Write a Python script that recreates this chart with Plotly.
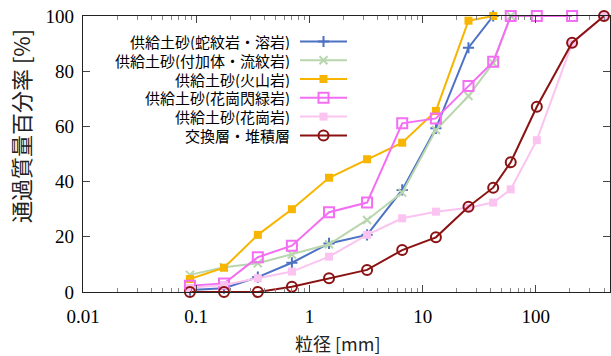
import plotly.graph_objects as go

# ---- data ----
grain_size_mm = [0.088, 0.176, 0.35, 0.70, 1.49, 3.23, 6.6, 13.1, 25.4, 42, 60, 102, 209, 400]

series_names = [
    "供給土砂(蛇紋岩・溶岩)",
    "供給土砂(付加体・流紋岩)",
    "供給土砂(火山岩)",
    "供給土砂(花崗閃緑岩)",
    "供給土砂(花崗岩)",
    "交換層・堆積層",
]
pass_serpentinite = [0.7, 1.4, 5.4, 10.6, 17.6, 20.7, 37.0, 59.3, 88.5, 100]
pass_accretion = [6.2, 9.0, 10.4, 13.6, 17.3, 26.1, 36.0, 58.7, 71.0, 83.0, 100]
pass_volcanic = [4.7, 8.8, 20.7, 30.0, 41.4, 48.1, 54.1, 65.6, 98.3, 100]
pass_granodiorite = [2.3, 3.1, 12.6, 16.8, 28.9, 32.4, 61.1, 62.9, 74.6, 83.4, 100, 100, 100]
pass_granite = [1.5, 2.5, 5.0, 7.4, 12.8, 20.7, 26.7, 29.1, 30.5, 32.4, 37.2, 55.0, 90.0, 100]
pass_exchange = [0, 0, 0, 1.9, 5.0, 8.0, 15.2, 19.8, 30.9, 37.8, 47.0, 67.1, 90.3, 100]

x_tick_vals = [0.01, 0.1, 1, 10, 100]
x_tick_text = ["0.01", "0.1", "1", "10", "100"]
y_tick_vals = [0, 20, 40, 60, 80, 100]

# ---- styles ----
styles = [
    dict(color="#4d72c4", symbol="cross-thin", size=8),
    dict(color="#b9d6ae", symbol="x-thin", size=8),
    dict(color="#f7b500", symbol="square", size=8),
    dict(color="#f46ef4", symbol="square-open", size=10),
    dict(color="#fbc3ef", symbol="square", size=8),
    dict(color="#8b1212", symbol="circle-open", size=10),
]
values = [pass_serpentinite, pass_accretion, pass_volcanic,
          pass_granodiorite, pass_granite, pass_exchange]


def marker_for(st):
    m = dict(symbol=st["symbol"], size=st["size"], color=st["color"])
    if st["symbol"].endswith("thin") or st["symbol"].endswith("open"):
        m["line"] = dict(color=st["color"], width=2)
    return m


fig = go.Figure()
for name, vals, st in zip(series_names, values, styles):
    fig.add_trace(go.Scatter(
        x=grain_size_mm[:len(vals)], y=vals, name=name, mode="lines+markers",
        line=dict(color=st["color"], width=2), marker=marker_for(st),
        showlegend=False, cliponaxis=False,
    ))

# ---- layout geometry (pixels) ----
W, H = 611, 356
L, R, T, B = 83, 610, 16, 292


def px(x):
    return (x - L) / (R - L)


def py(y):
    return (B - y) / (B - T)


# ---- custom legend (text left, sample right) ----
row_y = [41.5, 60.2, 79.0, 97.8, 116.6, 135.4]
text_right = 291
line_x0, line_x1 = 300, 347
for name, st, ry in zip(series_names, styles, row_y):
    fig.add_annotation(
        x=px(text_right), y=py(ry), xref="paper", yref="paper",
        xanchor="right", yanchor="middle", text=name, showarrow=False,
        height=17, valign="middle", borderpad=0,
        font=dict(family="Noto Sans CJK JP", size=15, color="#000"),
    )
    fig.add_shape(
        type="line", xref="paper", yref="paper",
        x0=px(line_x0), x1=px(line_x1), y0=py(ry), y1=py(ry),
        line=dict(color=st["color"], width=2),
    )
    fig.add_trace(go.Scatter(
        x=[(line_x0 + line_x1) / 2], y=[ry],
        xaxis="x2", yaxis="y2", mode="markers", marker=marker_for(st),
        showlegend=False, hoverinfo="skip",
    ))

axis_font = dict(family="Liberation Serif, Times New Roman, serif", size=19, color="#000")
fig.update_layout(
    width=W, height=H,
    margin=dict(l=L, r=W - R, t=T, b=H - B, autoexpand=False),
    paper_bgcolor="white", plot_bgcolor="white",
    xaxis=dict(
        type="log", range=[-2, 2.655], tickvals=x_tick_vals, ticktext=x_tick_text,
        ticks="inside", ticklen=7, tickwidth=1, tickcolor="#444",
        showline=True, linecolor="#222", linewidth=1.2, mirror="ticks",
        showgrid=False, zeroline=False, tickfont=axis_font, automargin=False,
        ticklabelstandoff=7,
        minor=dict(ticks="inside", ticklen=4, tickcolor="#888", dtick="D1", showgrid=False),
    ),
    yaxis=dict(
        range=[0, 100], tickvals=y_tick_vals,
        ticks="inside", ticklen=7, tickwidth=1, tickcolor="#444",
        showline=True, linecolor="#222", linewidth=1.2, mirror="ticks",
        showgrid=False, zeroline=False, tickfont=axis_font, automargin=False,
        ticklabelstandoff=4,
    ),
    xaxis2=dict(overlaying="x", range=[L, R], visible=False),
    yaxis2=dict(overlaying="y", range=[B, T], visible=False),
)

fig.add_annotation(
    x=px(20), y=py(126), xref="paper", yref="paper", textangle=-90,
    text="通過質量百分率 [%]", showarrow=False, xanchor="center", yanchor="middle",
    font=dict(family="Noto Sans CJK JP", size=22, color="#222"),
)
fig.add_annotation(
    x=px(338), y=py(343), xref="paper", yref="paper",
    text="粒径 [mm]", showarrow=False, xanchor="center", yanchor="middle",
    font=dict(family="Noto Sans CJK JP", size=18, color="#222"),
)

fig.write_html("out.html", config={"displayModeBar": False},
               post_script="document.body.style.margin='0';")
